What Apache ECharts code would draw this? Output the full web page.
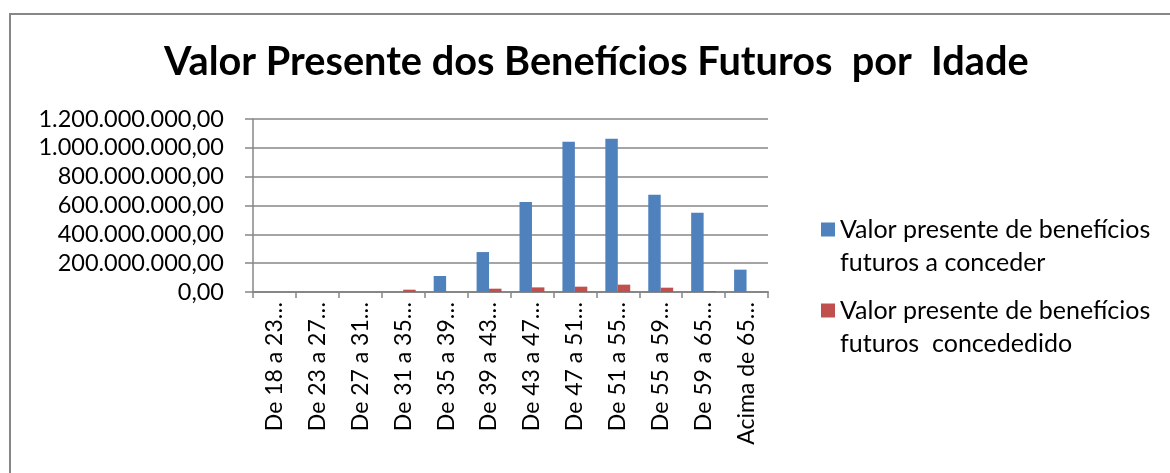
<!DOCTYPE html>
<html>
<head>
<meta charset="utf-8">
<script src="https://cdn.jsdelivr.net/npm/echarts@6/dist/echarts.min.js"></script>
<style>
html,body{margin:0;padding:0;background:#fff;}
#frame{position:absolute;left:9px;top:13px;width:1170px;height:470px;border-left:2px solid #878787;border-top:2px solid #878787;}
#c{position:absolute;left:0;top:0;width:1170px;height:473px;}
</style>
</head>
<body>
<div id="frame"></div>
<div id="c"></div>
<script>
const titleText = 'Valor Presente dos Benefícios Futuros  por  Idade';
const categories = ['De 18 a 23…','De 23 a 27…','De 27 a 31…','De 31 a 35…','De 35 a 39…','De 39 a 43…','De 43 a 47…','De 47 a 51…','De 51 a 55…','De 55 a 59…','De 59 a 65…','Acima de 65…'];
const seriesNames = ['Valor presente de benefícios futuros a conceder','Valor presente de benefícios futuros  concededido'];
const legendLines = {
  'Valor presente de benefícios futuros a conceder': ['Valor presente de benefícios', 'futuros a conceder'],
  'Valor presente de benefícios futuros  concededido': ['Valor presente de benefícios', 'futuros  concededido']
};
const aConceder = [0, 0, 0, 0, 111000000, 277000000, 624000000, 1043000000, 1063000000, 675000000, 550000000, 155000000];
const concedido = [0, 0, 0, 16000000, 0, 23000000, 32000000, 37000000, 51000000, 30000000, 6000000, 0];
const yTicks = {min: 0, max: 1200000000, interval: 200000000};

function fmt(v){
  const s = Math.round(v).toString().replace(/\B(?=(\d{3})+(?!\d))/g, '.');
  return s + ',00';
}
const FONT = 'Lato';
const chart = echarts.init(document.getElementById('c'));
chart.setOption({
  backgroundColor: 'transparent',
  animation: false,
  title: {
    text: titleText, left: 159, top: 37,
    textStyle: {fontFamily: FONT, fontWeight: 'bold', fontSize: 39.7, color: '#000'}
  },
  legend: {
    orient: 'vertical', left: 816, top: 175,
    itemWidth: 14, itemHeight: 14, itemGap: -18,
    icon: 'rect',
    formatter: function (name) { return ' \n' + legendLines[name].join('\n'); },
    textStyle: {fontFamily: FONT, fontSize: 25, color: '#000', lineHeight: 33},
    data: seriesNames
  },
  grid: {left: 253, right: 402, top: 119, bottom: 181, containLabel: false},
  xAxis: {
    type: 'category', data: categories,
    axisLine: {show: true, lineStyle: {color: '#878787', width: 2}},
    axisTick: {show: true, length: 6, lineStyle: {color: '#878787', width: 1.5}},
    axisLabel: {rotate: 90, interval: 0, margin: 10, fontFamily: FONT, fontSize: 23, color: '#000'}
  },
  yAxis: {
    type: 'value', min: yTicks.min, max: yTicks.max, interval: yTicks.interval,
    axisLine: {show: true, lineStyle: {color: '#878787', width: 1.5}},
    axisTick: {show: true, length: 8, lineStyle: {color: '#878787', width: 1.5}},
    splitLine: {show: true, lineStyle: {color: '#878787', width: 1.5}},
    axisLabel: {margin: 29, fontFamily: FONT, fontSize: 23.5, color: '#000', formatter: fmt}
  },
  series: [
    {name: seriesNames[0], type: 'bar', data: aConceder, barWidth: '29%', barGap: '0%', itemStyle: {color: '#4F81BD'}},
    {name: seriesNames[1], type: 'bar', data: concedido, barWidth: '29%', barGap: '0%', itemStyle: {color: '#C0504D'}}
  ]
});
</script>
</body>
</html>
